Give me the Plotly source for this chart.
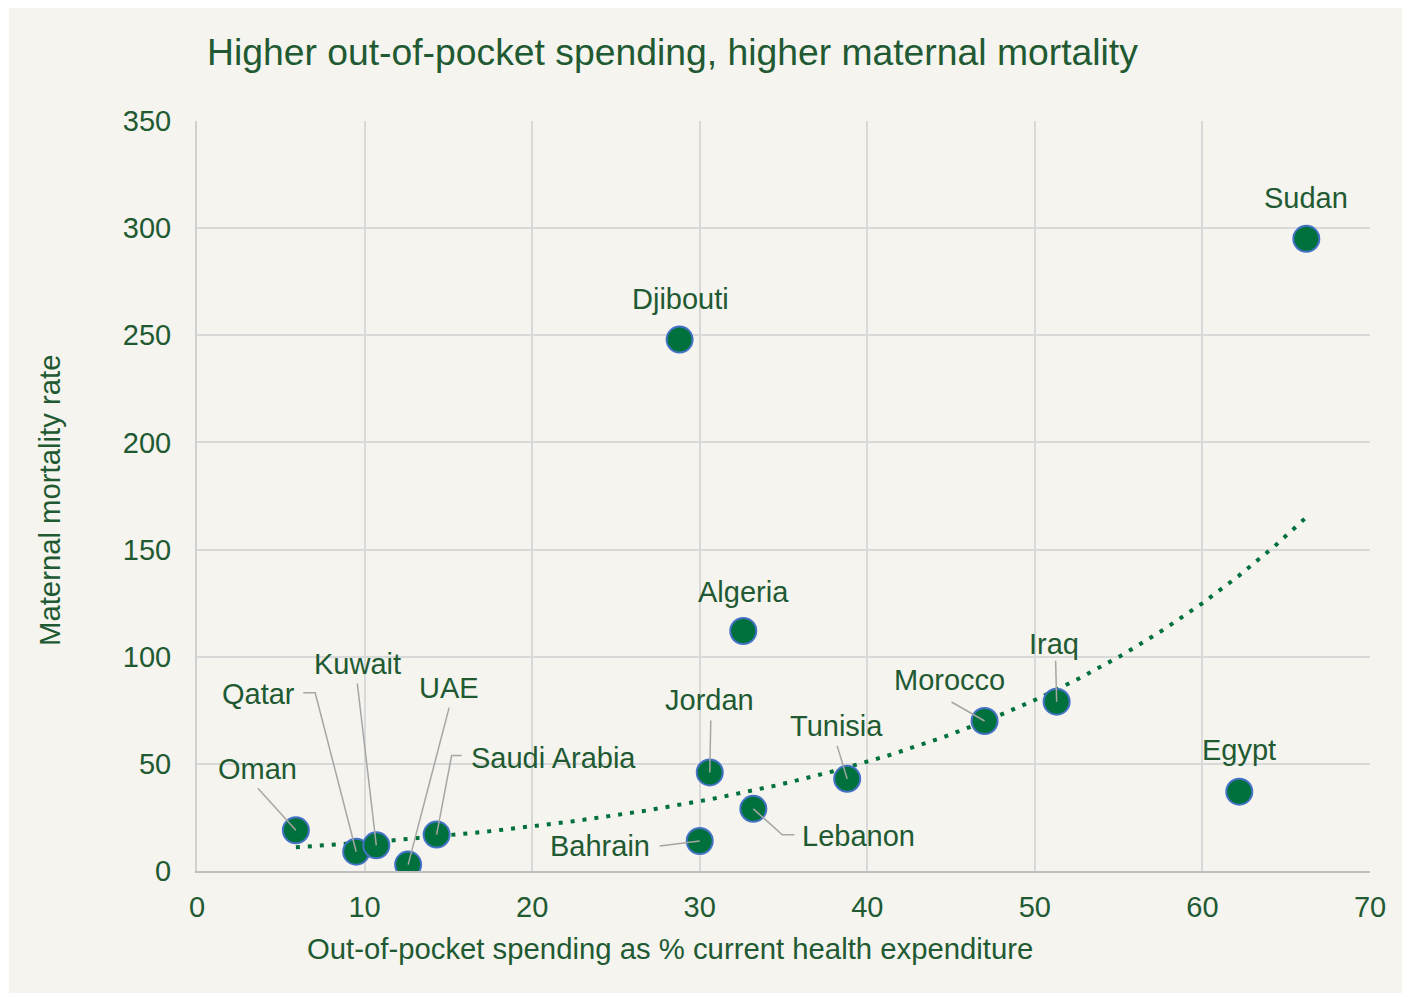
import numpy as np
import plotly.graph_objects as go

# ---- data ----
countries = ["Oman", "Qatar", "Kuwait", "UAE", "Saudi Arabia", "Bahrain", "Jordan",
             "Lebanon", "Djibouti", "Algeria", "Tunisia", "Morocco", "Iraq", "Egypt", "Sudan"]
oop_share = [5.9, 9.5, 10.7, 12.6, 14.3, 30.0, 30.6, 33.2, 28.8, 32.6, 38.8, 47.0, 51.3, 62.2, 66.2]
mmr = [19, 9, 12, 3, 17, 14, 46, 29, 248, 112, 43, 70, 79, 37, 295]

x_ticks = [0, 10, 20, 30, 40, 50, 60, 70]
y_ticks = [0, 50, 100, 150, 200, 250, 300, 350]

# ---- styling / label placement (pixel offsets from each point; y positive = up) ----
label_offsets = {
    "Sudan": (0, 41), "Djibouti": (1, 41), "Algeria": (0, 39), "Iraq": (-3, 58),
    "Morocco": (-35, 41), "Tunisia": (-11, 53), "Jordan": (0, 72), "Lebanon": (105, -27),
    "Bahrain": (-100, -5), "Egypt": (0, 42), "Saudi Arabia": (117, 77), "UAE": (41, 177),
    "Kuwait": (-19, 181), "Qatar": (-98, 158), "Oman": (-38, 61),
}
leader_paths = {
    "Oman": [(0, 0), (-38, 42)],
    "Qatar": [(0, 0), (-41, 159), (-53, 159)],
    "Kuwait": [(0, 0), (-19, 162)],
    "UAE": [(0, 0), (41, 157)],
    "Saudi Arabia": [(0, 0), (15, 79), (25, 79)],
    "Bahrain": [(0, 0), (-40, -5)],
    "Lebanon": [(0, 0), (29, -26), (41, -26)],
    "Jordan": [(0, 0), (1, 52)],
    "Tunisia": [(0, 0), (-10, 33)],
    "Morocco": [(0, 0), (-33, 19)],
    "Iraq": [(0, 0), (-1, 41)],
}

TEXT = "#215a32"
GREEN = "#00703c"
BG = "#f5f4ee"
FONT = "Liberation Sans, Arial, sans-serif"

OFF = 8  # page body margin: the figure starts 8 px in from the window corner
W, H = 1410 - OFF, 997 - OFF
L, T = 197 - OFF, 121 - OFF
R, B = 1410 - 1370, 997 - 871
PW, PH = W - L - R, H - T - B


def px_x(p):  # window pixel -> paper x
    return (p - OFF - L) / PW


def px_y(p):  # window pixel -> paper y
    return (T + PH - (p - OFF)) / PH


# exponential trendline (least squares on ln y, as Excel does)
xa = np.array(oop_share, dtype=float)
ya = np.array(mmr, dtype=float)
b, lna = np.polyfit(xa, np.log(ya), 1)
xt = np.linspace(xa.min(), xa.max(), 300)
yt = np.exp(lna) * np.exp(b * xt)

fig = go.Figure()
fig.add_trace(go.Scatter(x=xt, y=yt, mode="lines",
                         line=dict(color=GREEN, width=4, dash="4px,8px"),
                         hoverinfo="skip", showlegend=False))
fig.add_trace(go.Scatter(x=oop_share, y=mmr, mode="markers", text=countries,
                         marker=dict(size=26, color=GREEN, line=dict(color="#4472c4", width=2)),
                         showlegend=False))

shapes = []
# background panel
shapes.append(dict(type="rect", xref="paper", yref="paper", layer="below",
                   x0=px_x(9), x1=px_x(1402), y0=px_y(993), y1=px_y(5),
                   fillcolor=BG, line=dict(width=0)))
for c, xv, yv in zip(countries, oop_share, mmr):
    if c in leader_paths:
        pts = leader_paths[c]
        path = "M " + " L ".join(f"{px},{py}" for px, py in pts)
        shapes.append(dict(type="path", xref="x", yref="y", xsizemode="pixel", ysizemode="pixel",
                           xanchor=xv, yanchor=yv, path=path, layer="above",
                           line=dict(color="#a6a6a6", width=1.5)))

annotations = []
for c, xv, yv in zip(countries, oop_share, mmr):
    dx, dy = label_offsets[c]
    annotations.append(dict(x=xv, y=yv, xref="x", yref="y", text=c, showarrow=False,
                            xshift=dx, yshift=dy, xanchor="center", yanchor="middle",
                            font=dict(size=29, color=TEXT, family=FONT)))
annotations.append(dict(x=px_x(670), y=px_y(948), xref="paper", yref="paper",
                        text="Out-of-pocket spending as % current health expenditure",
                        showarrow=False, xanchor="center", yanchor="middle",
                        font=dict(size=29.3, color=TEXT, family=FONT)))
annotations.append(dict(x=px_x(50), y=px_y(501), xref="paper", yref="paper",
                        text="Maternal mortality rate", textangle=-90,
                        showarrow=False, xanchor="center", yanchor="middle",
                        font=dict(size=29.3, color=TEXT, family=FONT)))

fig.update_layout(
    width=W, height=H,
    margin=dict(l=L, r=R, t=T, b=B, pad=0),
    paper_bgcolor="white", plot_bgcolor=BG,
    font=dict(family=FONT, color=TEXT, size=29),
    title=dict(text="Higher out-of-pocket spending, higher maternal mortality",
               x=(207 - OFF) / W, xanchor="left", xref="container",
               y=1 - (52 - OFF) / H, yanchor="middle", yref="container",
               font=dict(size=37.3, color=TEXT, family=FONT)),
    shapes=shapes, annotations=annotations,
    xaxis=dict(range=[0, 70], tickvals=x_ticks, ticktext=[str(v) for v in x_ticks],
               showgrid=True, gridcolor="#d9d9d9", gridwidth=2,
               showline=True, linecolor="#bfbfbf", linewidth=2, zeroline=False,
               ticks="", ticklabelstandoff=9, tickfont=dict(size=29, color=TEXT)),
    yaxis=dict(range=[0, 350], tickvals=y_ticks, ticktext=[str(v) for v in y_ticks],
               showgrid=True, gridcolor="#d9d9d9", gridwidth=2,
               showline=True, linecolor="#d0d0d0", linewidth=2, zeroline=False,
               ticks="", ticklabelstandoff=18, tickfont=dict(size=29, color=TEXT)),
    hovermode="closest",
)

fig.write_html("out.html")
